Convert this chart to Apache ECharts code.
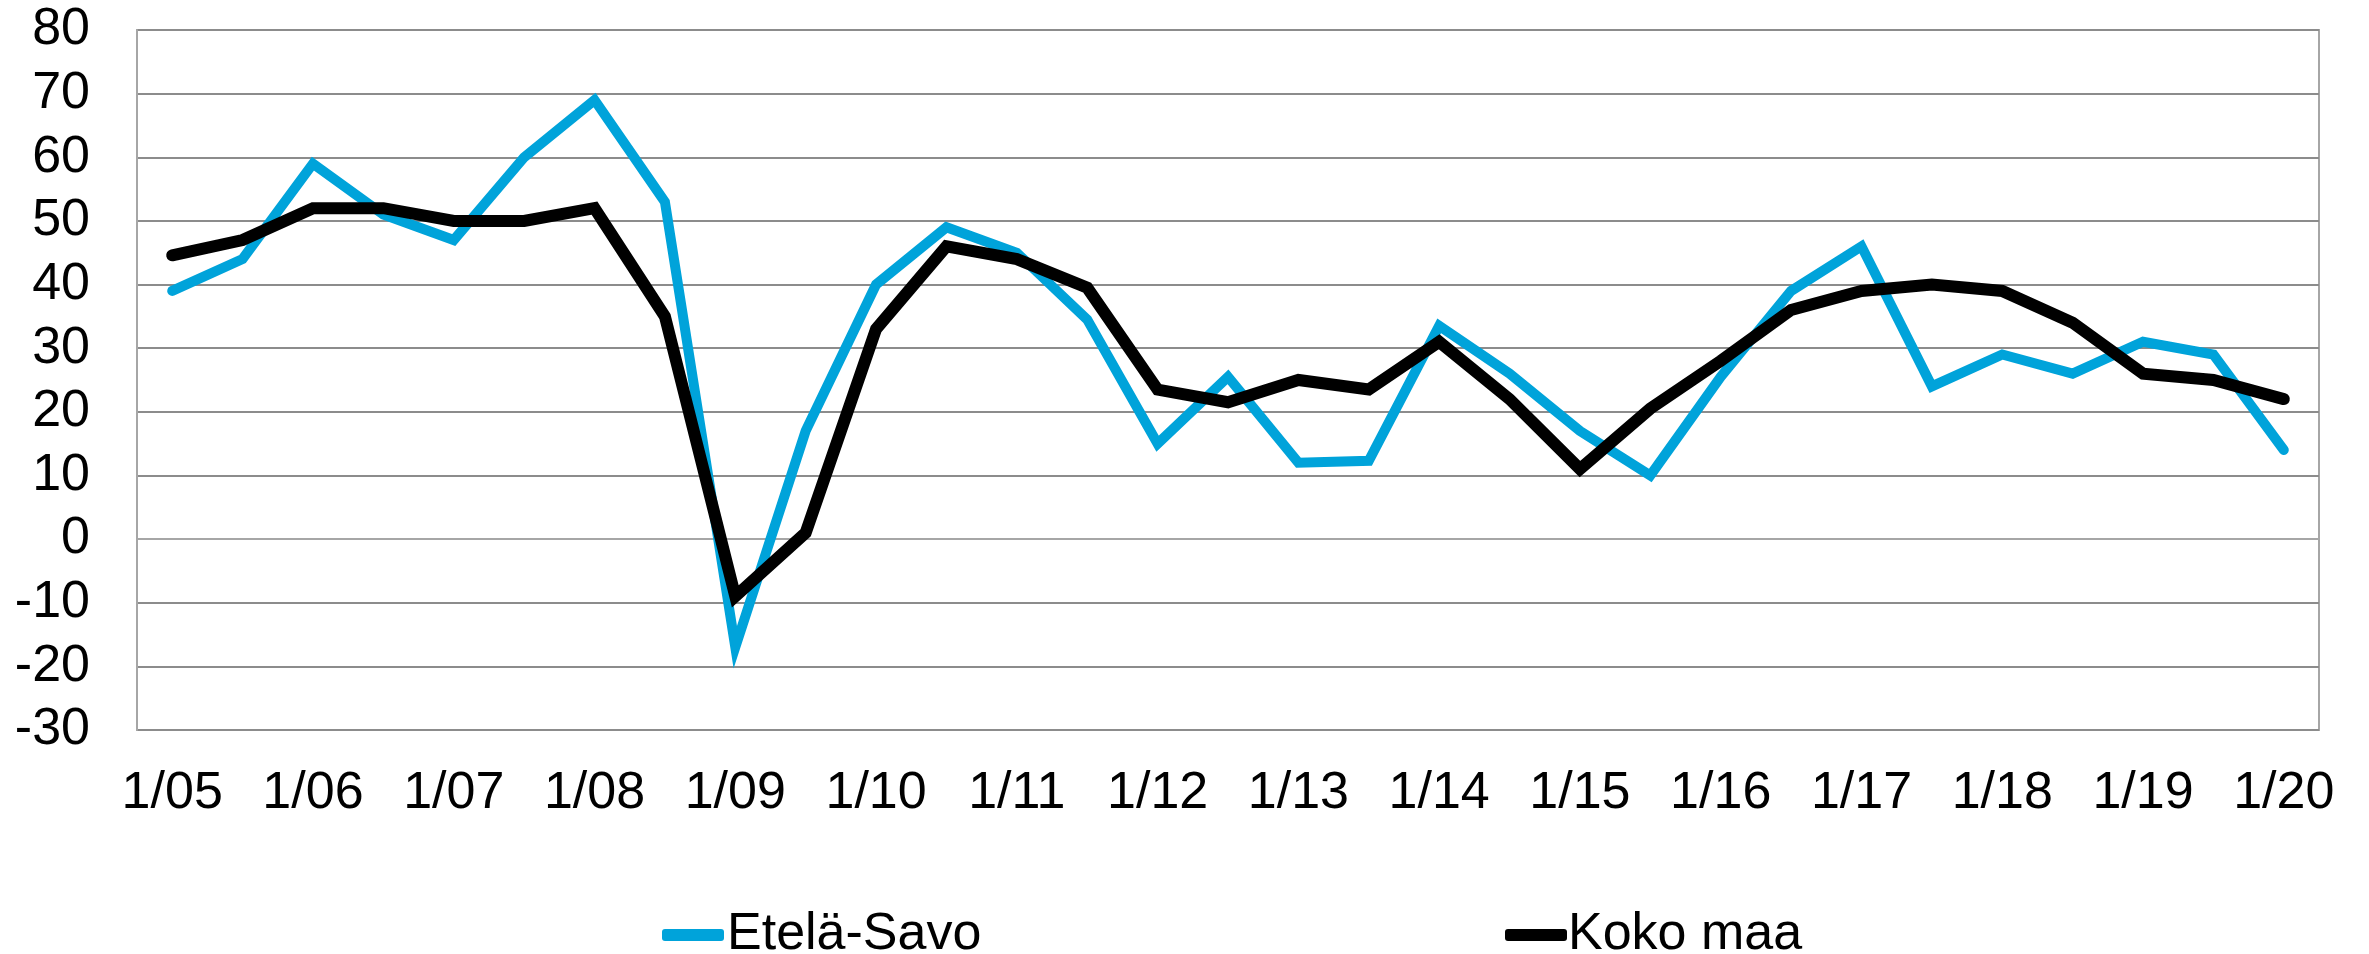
<!DOCTYPE html>
<html>
<head>
<meta charset="utf-8">
<script src="https://cdn.jsdelivr.net/npm/echarts@6/dist/echarts.min.js"></script>
<style>
  html, body { margin: 0; padding: 0; background: #fff; }
  #chart { width: 2369px; height: 954px; }
</style>
</head>
<body>
<div id="chart"></div>
<script>
// puolivuosittaiset havainnot 1/05 ... 1/20
const categories = [
  '1/05', '7/05', '1/06', '7/06', '1/07', '7/07', '1/08', '7/08',
  '1/09', '7/09', '1/10', '7/10', '1/11', '7/11', '1/12', '7/12',
  '1/13', '7/13', '1/14', '7/14', '1/15', '7/15', '1/16', '7/16',
  '1/17', '7/17', '1/18', '7/18', '1/19', '7/19', '1/20'
]
const etelaSavo = [
  39, 44, 59, 51, 47, 60, 69, 53,
  -17, 17, 40, 49, 45, 34.5, 15, 25.5,
  12, 12.3, 33.5, 26, 17, 10, 25.5, 39,
  46, 24, 29, 26, 31, 29, 14
]
const kokoMaa = [
  44.6, 47, 52, 52, 50, 50, 52, 35,
  -9, 1, 33, 46, 44, 39.5, 23.5, 21.5,
  25, 23.5, 31, 22, 11, 20.5, 28, 36,
  39, 40, 39, 34, 26, 25, 22
]
const seriesNames = ['Etelä-Savo', 'Koko maa']
const seriesColors = ['#00a3da', '#000000']

const chart = echarts.init(document.getElementById('chart'))
const font = 'Liberation Sans, Arial, sans-serif'

chart.setOption({
  animation: false,
  backgroundColor: '#ffffff',
  grid: {
    left: 137, right: 50, top: 30, bottom: 224,
    show: true, borderColor: '#a6a6a6', borderWidth: 2
  },
  legend: [
    {
      data: [seriesNames[0]],
      left: 657, top: 904,
      icon: 'roundRect', itemWidth: 62, itemHeight: 12, itemGap: 4,
      textStyle: { fontFamily: font, fontSize: 52, color: '#000', padding: [0, 0, 0, -2] }
    },
    {
      data: [seriesNames[1]],
      left: 1500, top: 904,
      icon: 'roundRect', itemWidth: 62, itemHeight: 12, itemGap: 4,
      textStyle: { fontFamily: font, fontSize: 52, color: '#000', padding: [0, 0, 0, -4] }
    }
  ],
  xAxis: {
    type: 'category',
    data: categories,
    boundaryGap: true,
    axisLine: { show: true, lineStyle: { color: '#a6a6a6', width: 2 } },
    axisTick: { show: false },
    axisLabel: {
      interval: 1,
      margin: 38,
      fontFamily: font, fontSize: 52, color: '#000'
    },
    splitLine: { show: false }
  },
  yAxis: {
    type: 'value',
    min: -30, max: 80, interval: 10,
    axisLine: { show: true, lineStyle: { color: '#a6a6a6', width: 2 } },
    axisTick: { show: false },
    axisLabel: { margin: 47, fontFamily: font, fontSize: 52, color: '#000' },
    splitLine: { show: true, lineStyle: { color: '#8c8c8c', width: 2 } }
  },
  series: [
    {
      name: seriesNames[0],
      type: 'line',
      data: etelaSavo,
      symbol: 'none',
      smooth: false,
      color: seriesColors[0],
      lineStyle: { width: 10, color: seriesColors[0], cap: 'round', join: 'miter' },
      z: 2
    },
    {
      name: seriesNames[1],
      type: 'line',
      data: kokoMaa,
      symbol: 'none',
      smooth: false,
      color: seriesColors[1],
      lineStyle: { width: 12, color: seriesColors[1], cap: 'round', join: 'miter' },
      z: 3
    }
  ]
})
</script>
</body>
</html>
